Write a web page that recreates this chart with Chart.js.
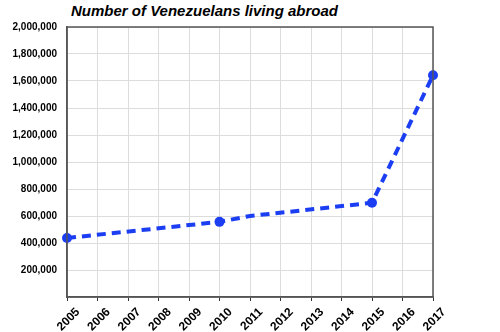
<!DOCTYPE html>
<html>
<head>
<meta charset="utf-8">
<script src="https://cdn.jsdelivr.net/npm/chart.js@4"></script>
<style>
html,body{margin:0;padding:0;background:#fff;}
#wrap{position:relative;width:500px;height:332px;}
#title{position:absolute;left:71px;top:2px;font-family:"Liberation Sans",Arial,sans-serif;font-weight:bold;font-style:italic;font-size:15px;color:#000;white-space:nowrap;}
canvas{position:absolute;left:0;top:0;}
</style>
</head>
<body>
<div id="wrap">
<div id="title">Number of Venezuelans living abroad</div>
<canvas id="c" width="500" height="332"></canvas>
</div>
<script>
const years = ['2005','2006','2007','2008','2009','2010','2011','2012','2013','2014','2015','2016','2017'];
const emigrants = [437280, null, null, null, null, 556641, 600000, null, null, null, 697562, null, 1642442];
const markerShown = [true, false, false, false, false, true, false, false, false, false, true, false, true];
const yTickLabels = [200000, 400000, 600000, 800000, 1000000, 1200000, 1400000, 1600000, 1800000, 2000000];

const FONT = '"Liberation Sans", Arial, sans-serif';

const boxPlugin = {
  id: 'box',
  afterDraw(chart) {
    const a = chart.chartArea, ctx = chart.ctx;
    ctx.save();
    ctx.strokeStyle = '#555';
    ctx.lineWidth = 1.5;
    ctx.strokeRect(a.left, a.top, a.right - a.left, a.bottom - a.top);
    ctx.restore();
  }
};

new Chart(document.getElementById('c'), {
  type: 'line',
  data: {
    labels: years,
    datasets: [{
      data: emigrants,
      spanGaps: true,
      borderColor: '#1b3ef2',
      backgroundColor: '#1b3ef2',
      borderWidth: 4,
      borderDash: [9, 6],
      pointRadius: markerShown.map(s => s ? 5 : 0),
      pointHoverRadius: 5,
      pointBackgroundColor: '#1b3ef2',
      pointBorderWidth: 0,
      tension: 0
    }]
  },
  options: {
    responsive: false,
    animation: false,
    events: [],
    layout: { padding: { left: 0, right: 67, top: 27, bottom: 0 } },
    plugins: { legend: { display: false }, tooltip: { enabled: false }, title: { display: false } },
    scales: {
      x: {
        offset: false,
        grid: { color: '#dcdcdc', borderDash: [2, 2], tickLength: 4, tickColor: '#333', tickBorderDash: [] },
        border: { display: true, color: '#555', width: 1.5 },
        ticks: { color: '#000', font: { family: FONT, size: 12, weight: 'bold' }, maxRotation: 45, minRotation: 45, padding: 4, labelOffset: 11, autoSkip: false },
        afterFit(s) { s.height = 35; }
      },
      y: {
        min: 0, max: 2000000,
        grid: { color: '#dcdcdc', borderDash: [2, 2], drawTicks: false },
        border: { display: true, color: '#555', width: 1.5 },
        ticks: {
          stepSize: 100000,
          color: '#000',
          padding: 10,
          font: { family: FONT, size: 10, weight: 'bold' },
          callback: v => yTickLabels.includes(v) ? v.toLocaleString('en-US') : ''
        },
        afterFit(s) { s.width = 67; }
      }
    }
  },
  plugins: [boxPlugin]
});
</script>
</body>
</html>
